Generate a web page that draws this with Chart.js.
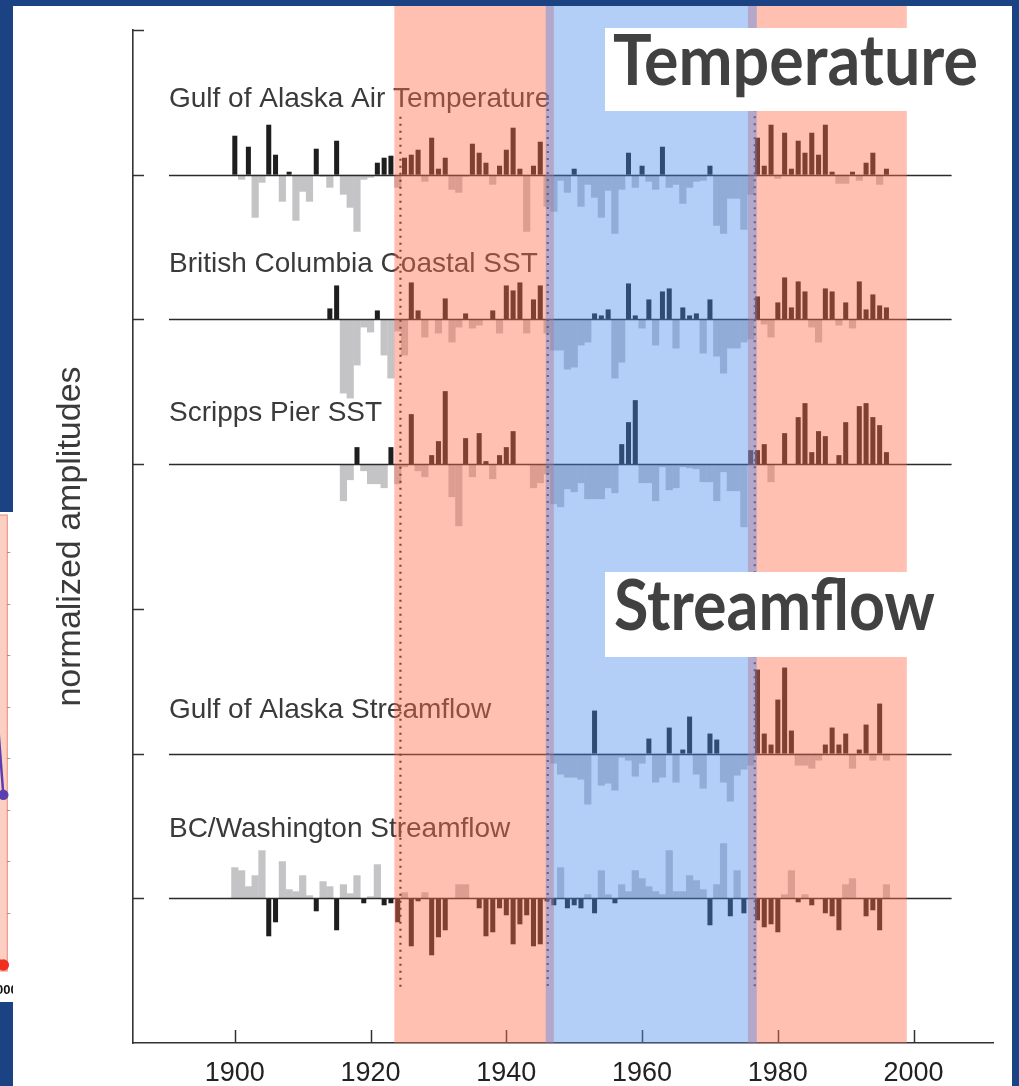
<!DOCTYPE html>
<html>
<head>
<meta charset="utf-8">
<script src="https://cdn.jsdelivr.net/npm/chart.js@4.4.0/dist/chart.umd.min.js"></script>
<style>
  html, body { margin: 0; padding: 0; width: 1019px; height: 1086px; overflow: hidden; background: #1b4282; }
  #panel { position: absolute; left: 13px; top: 6px; width: 999px; height: 1080px; background: #ffffff; }
  #mainWrap { position: absolute; left: 0; top: 0; width: 1019px; height: 1086px; }
  #frag { position: absolute; left: 0; top: 512px; width: 13px; height: 490px; background: #ffffff; overflow: hidden; z-index: 2; }
  #fragInner { position: absolute; left: -147px; top: 0; width: 160px; height: 490px; }
</style>
</head>
<body>
<div id="panel"></div>
<div id="mainWrap"><canvas id="chart" width="1019" height="1086"></canvas></div>
<div id="frag"><div id="fragInner"><canvas id="fragChart" width="160" height="490"></canvas></div></div>
<script>
// ---------------- data ----------------
const YEAR_TICKS = [1900, 1920, 1940, 1960, 1980, 2000];
const SERIES_NAMES = [
  'Gulf of Alaska Air Temperature',
  'British Columbia Coastal SST',
  'Scripps Pier SST',
  'Gulf of Alaska Streamflow',
  'BC/Washington Streamflow'
];
const SERIES_BASE = [6, 5, 4, 2, 1];
const SERIES_START = [1900, 1914, 1916, 1947, 1900];
const SERIES_INVERTED = [false, false, false, false, true];

const AIR_TEMP = [
  39, -5, 28, -43, -8, 50, 20, -27, 3, -46,
  -17, -27, 26, -2, -13, 34, -20, -33, -57, -5,
  -3, 12, 17, 19, -13, 17, 20, 25, -7, 37,
  6, 17, -15, -18, -2, 31, 22, 12, -10, 9,
  25, 47, 6, -57, 9, 33, -32, -37, -6, -18,
  6, -32, -10, -23, -43, -16, -59, -15, 22, -13,
  9, -7, -15, 28, -13, -10, -29, -13, -7, -6,
  9, -51, -59, -24, -24, -55, -20, 37, 9, 50,
  -4, 42, 6, 34, 22, 42, 20, 50, 3, -9,
  -9, 3, -6, 12, 22, -10, 6
];
const BC_SST = [
  11, 34, -74, -79, -46, -8,
  -13, 9, -36, -59, -12, -36, 37, 9, -18, 0,
  -14, 21, -23, -8, 6, -9, -6, 0, 9, -14,
  34, 29, 37, -14, 20, 34, -14, -31, -31, -50,
  -48, -26, -23, 6, 4, 10, -59, -43, 36, 4,
  -9, 20, -26, 28, 31, -29, 12, 4, 6, -34,
  20, -37, -54, -29, -29, -23, -20, 23, -5, -18,
  17, 42, 12, 38, 28, -8, -23, 31, 28, -6,
  17, -9, 38, 10, 25, 14, 12
];
const SCRIPPS_SST = [
  -37, -16, 17, -7,
  -20, -20, -24, 17, -20, -3, 50, -7, -13, 9,
  23, 73, -33, -62, 26, -13, 31, 3, -15, 9,
  17, 33, 0, 0, -24, -19, -10, -40, -43, -25,
  -28, -19, -35, -35, -35, -24, -29, 20, 42, 64,
  -19, -19, -37, -3, -26, -24, -3, -4, -5, -18,
  -18, -37, -8, -27, -27, -63, 14, 14, 20, -18,
  0, 31, 0, 47, 61, 12, 33, 28, 0, 9,
  42, 0, 58, 61, 47, 39, 12
];
const GOA_FLOW = [
  -10, -21, -24,
  -24, -26, -51, 43, -32, -30, -37, -4, -7, -23,
  -10, 15, -29, -24, 26, -29, 4, 37, -21, -35,
  20, 14, -29, -48, -22, -16, -12, 84, 20, 9,
  54, 86, 23, -12, -12, -15, -7, 9, 26, 9,
  20, -15, 4, 29, -7, 50, -7
];
const BCWA_FLOW = [
  31, 28, 12, 23, 48, -38, -24, 37, 9, 7,
  23, 3, -13, 17, 12, -32, 14, 5, 23, -5,
  2, 34, -7, -5, -24, 6, -48, -3, 6, -57,
  -39, -32, 0, 14, 14, 0, -10, -38, -34, -10,
  -17, -46, -26, -17, -48, -46, -3, -7, 31, -10,
  -7, -10, 4, -15, 28, 4, -5, 14, 7, 28,
  20, 12, 7, 4, 48, 7, 7, 23, 18, 9,
  -27, 14, 55, -18, 28, -15, 0, -22, -29, -26,
  -34, 4, 28, -4, 4, -7, 0, -15, -18, -32,
  14, 20, 0, -18, -12, -32, 14
];
const SERIES = [AIR_TEMP, BC_SST, SCRIPPS_SST, GOA_FLOW, BCWA_FLOW];

const WARM_PERIODS = [[1923.5, 1947.0], [1975.6, 1999.0]];
const COOL_PERIODS = [[1945.8, 1976.9]];
const REGIME_SHIFTS = [1924.4, 1946.1, 1976.6];
const REGIME_SHIFT_TOPS = [6.4, 6.55, 6.5];
const BASELINE_SPAN = [1890.3, 2005.6];

// fragment of the neighbouring chart (cut off at the left edge)
const FRAG_YEARS = [1997, 1998, 1999, 2000];
const FRAG_PURPLE = [8.2, 7.6, 6.4, 3.3];
const FRAG_RED = [0.8, 0.5, 0.3, 0.0];
const FRAG_TICKS = [1, 2, 3, 4, 5, 6, 7, 8];

// ---------------- styling constants ----------------
const AMP = 1 / 144.7;
const DARK = '#1e1e1e';
const LIGHT = '#c4c4c6';
const WARM_OVERLAY = 'rgba(255,107,74,0.43)';
const COOL_OVERLAY = 'rgba(74,138,236,0.42)';
const LABEL_OFFSETS = [0.52, 0.38, 0.35, 0.30, 0.48];

function barsFor(i, wantDark) {
  const out = [];
  SERIES[i].forEach((v, k) => {
    if (!v) return;
    const up = v > 0;
    const dark = SERIES_INVERTED[i] ? !up : up;
    if (dark !== wantDark) return;
    const b = SERIES_BASE[i];
    out.push({ x: SERIES_START[i] + k, y: [b, b + v * AMP] });
  });
  return out;
}

const datasets = [];
SERIES.forEach((s, i) => {
  datasets.push({
    label: SERIES_NAMES[i] + ' (dark)', data: barsFor(i, true),
    backgroundColor: DARK, borderWidth: 0, barPercentage: 0.74, categoryPercentage: 1, grouped: false, order: 0
  });
  datasets.push({
    label: SERIES_NAMES[i] + ' (light)', data: barsFor(i, false),
    backgroundColor: LIGHT, borderWidth: 0, barPercentage: 1.06, categoryPercentage: 1, grouped: false, order: 1
  });
});

function fitText(ctx, text, x, y, font, targetWidth) {
  ctx.font = font;
  const w = ctx.measureText(text).width;
  ctx.save();
  ctx.translate(x, y);
  ctx.scale(targetWidth / w, 1);
  ctx.fillText(text, 0, 0);
  ctx.restore();
}

const decor = {
  id: 'decor',
  afterDatasetsDraw(chart) {
    const { ctx, chartArea: ca, scales: { x, y } } = chart;
    ctx.save();
    ctx.strokeStyle = '#2a2a2a';
    ctx.lineWidth = 1.6;
    SERIES_BASE.forEach(b => {
      const py = Math.round(y.getPixelForValue(b)) + 0.5;
      ctx.beginPath();
      ctx.moveTo(x.getPixelForValue(BASELINE_SPAN[0]), py);
      ctx.lineTo(x.getPixelForValue(BASELINE_SPAN[1]), py);
      ctx.stroke();
    });
    ctx.strokeStyle = '#262626';
    ctx.lineWidth = 2.2;
    ctx.setLineDash([2, 5]);
    REGIME_SHIFTS.forEach((yr, i) => {
      const px = x.getPixelForValue(yr);
      ctx.beginPath();
      ctx.moveTo(px, y.getPixelForValue(REGIME_SHIFT_TOPS[i]));
      ctx.lineTo(px, y.getPixelForValue(0.38));
      ctx.stroke();
    });
    ctx.setLineDash([]);
    ctx.fillStyle = '#3a3a3a';
    ctx.font = '28px "Liberation Sans", Arial, sans-serif';
    ctx.textBaseline = 'middle';
    ctx.textAlign = 'left';
    SERIES_NAMES.forEach((n, i) => {
      ctx.fillText(n, x.getPixelForValue(BASELINE_SPAN[0]), y.getPixelForValue(SERIES_BASE[i] + LABEL_OFFSETS[i]));
    });
    ctx.strokeStyle = '#333';
    ctx.lineWidth = 1.5;
    YEAR_TICKS.forEach(v => {
      const px = Math.round(x.getPixelForValue(v)) + 0.5;
      ctx.beginPath();
      ctx.moveTo(px, ca.bottom);
      ctx.lineTo(px, ca.bottom - 13);
      ctx.stroke();
    });
    for (let t = 1; t <= 7; t++) {
      const py = Math.round(y.getPixelForValue(t)) + 0.5;
      ctx.beginPath();
      ctx.moveTo(ca.left, py);
      ctx.lineTo(ca.left + 11, py);
      ctx.stroke();
    }
    const top = 6;
    WARM_PERIODS.forEach(([a, b]) => {
      ctx.fillStyle = WARM_OVERLAY;
      const xa = x.getPixelForValue(a), xb = x.getPixelForValue(b);
      ctx.fillRect(xa, top, xb - xa, ca.bottom - top);
    });
    COOL_PERIODS.forEach(([a, b]) => {
      ctx.fillStyle = COOL_OVERLAY;
      const xa = x.getPixelForValue(a), xb = x.getPixelForValue(b);
      ctx.fillRect(xa, top, xb - xa, ca.bottom - top);
    });
    ctx.fillStyle = '#ffffff';
    ctx.fillRect(605, 28, 407, 83);
    ctx.fillRect(605, 572, 340, 85);
    ctx.fillStyle = '#414141';
    ctx.textBaseline = 'alphabetic';
    fitText(ctx, 'Temperature', 613, 85, 'bold 70px Lato, "Open Sans", sans-serif', 365);
    fitText(ctx, 'Streamflow', 614, 630, 'bold 70px Lato, "Open Sans", sans-serif', 321);
    ctx.restore();
  }
};

new Chart(document.getElementById('chart'), {
  type: 'bar',
  data: { datasets },
  options: {
    responsive: false, animation: false, events: [],
    layout: { padding: { top: 30, right: 26, left: 0, bottom: 0 } },
    plugins: { legend: { display: false }, tooltip: { enabled: false } },
    scales: {
      x: {
        type: 'linear', min: 1885, max: 2011.7, offset: false,
        afterBuildTicks: s => { s.ticks = YEAR_TICKS.map(v => ({ value: v })); },
        afterFit: s => { s.height = 43; },
        grid: { display: false, drawTicks: false },
        border: { display: true, color: '#333', width: 1.6 },
        ticks: {
          color: '#222', font: { family: '"Liberation Sans", Arial, sans-serif', size: 27 },
          padding: 14, maxRotation: 0, autoSkip: false, callback: v => String(v)
        }
      },
      y: {
        type: 'linear', min: 0, max: 7,
        afterFit: s => { s.width = 133; },
        grid: { display: false, drawTicks: false },
        border: { display: true, color: '#333', width: 1.6 },
        ticks: { display: false },
        title: {
          display: true, text: 'normalized amplitudes', color: '#3a3a3a',
          font: { family: '"Liberation Sans", Arial, sans-serif', size: 34 },
          padding: { top: 50, bottom: 0 }
        }
      }
    }
  },
  plugins: [decor]
});

// neighbouring chart, only its right edge is visible
const fragBox = {
  id: 'fragBox',
  beforeDatasetsDraw(chart) {
    const { ctx, chartArea: ca, scales } = chart;
    const xa = scales.x.getPixelForValue(1999.2);
    ctx.save();
    ctx.fillStyle = 'rgba(250,175,155,0.6)';
    ctx.fillRect(xa, ca.top - 4, ca.right - xa, ca.bottom - ca.top + 10);
    ctx.strokeStyle = 'rgba(230,110,90,0.8)';
    ctx.lineWidth = 1;
    ctx.strokeRect(xa, ca.top - 4, ca.right - xa, ca.bottom - ca.top + 10);
    ctx.restore();
  }
};
const fragChart = new Chart(document.getElementById('fragChart'), {
  type: 'line',
  data: {
    datasets: [
      { data: FRAG_YEARS.map((yr, i) => ({ x: yr, y: FRAG_PURPLE[i] })), borderColor: '#5a3fb0', backgroundColor: '#5a3fb0', borderWidth: 2.5, pointRadius: 4 },
      { data: FRAG_YEARS.map((yr, i) => ({ x: yr, y: FRAG_RED[i] })), borderColor: '#f03020', backgroundColor: '#f03020', borderWidth: 2.5, pointRadius: 4.5 }
    ]
  },
  options: {
    responsive: false, animation: false, events: [],
    clip: false,
    layout: { padding: { top: 6, right: 0, left: 0, bottom: 0 } },
    plugins: { legend: { display: false }, tooltip: { enabled: false } },
    scales: {
      x: {
        type: 'linear', min: 1990, max: 2000.33,
        afterBuildTicks: s => { s.ticks = [{ value: 2000 }]; },
        afterFit: s => { s.height = 37; },
        grid: { display: false, drawTicks: false },
        border: { display: false },
        ticks: { color: '#111', font: { size: 13, weight: 'bold' }, padding: 18, maxRotation: 0, callback: v => String(v) }
      },
      y: {
        type: 'linear', position: 'right', min: 0, max: 8.65,
        afterBuildTicks: s => { s.ticks = FRAG_TICKS.map(v => ({ value: v })); },
        afterFit: s => { s.width = 5; },
        grid: { drawOnChartArea: false, drawTicks: true, tickLength: 3, color: '#999' },
        border: { display: false },
        ticks: { display: false }
      }
    }
  },
  plugins: [fragBox]
});
// slide the neighbouring chart so that its last point sits just inside the visible strip
const lastPx = fragChart.scales.x.getPixelForValue(FRAG_YEARS[FRAG_YEARS.length - 1]);
document.getElementById('fragInner').style.left = (3 - lastPx) + 'px';
</script>
</body>
</html>
